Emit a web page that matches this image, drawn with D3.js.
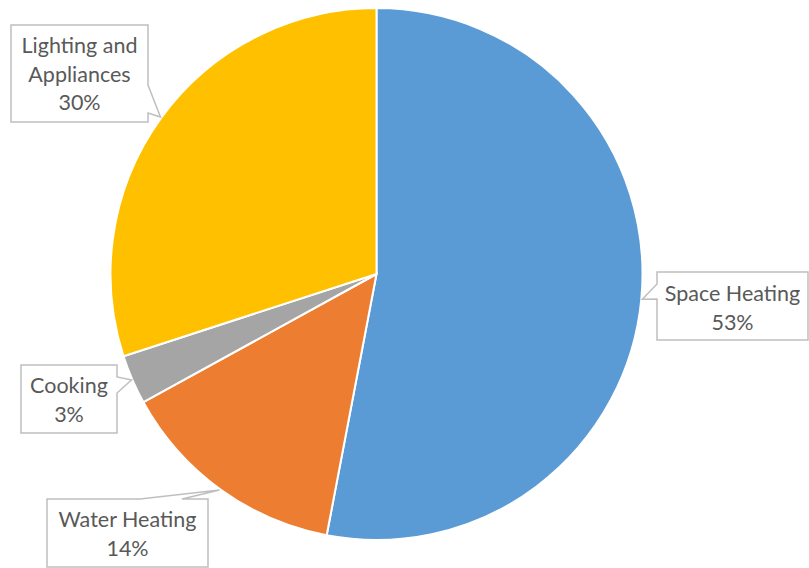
<!DOCTYPE html>
<html>
<head>
<meta charset="utf-8">
<script src="https://cdn.jsdelivr.net/npm/d3@7"></script>
<style>
  body { margin: 0; background: #fff; }
  svg { display: block; }
</style>
</head>
<body>
<svg id="chart"></svg>
<script>
// data
const categories = ['Space Heating', 'Water Heating', 'Cooking', 'Lighting and Appliances']
const values = [53, 14, 3, 30]
const colors = ['#5B9BD5', '#ED7D31', '#A5A5A5', '#FFC000']
// label lines (category name may wrap)
const labelLines = [['Space Heating'], ['Water Heating'], ['Cooking'], ['Lighting and', 'Appliances']]

const width = 809
const height = 568
const cx = 376.5
const cy = 274
const radius = 266

// callout boxes: rect + two base points of the pointer on the box edge
const callouts = [
    { x: 657, y: 272, w: 151, h: 68, base: [[657, 284], [657, 299]], textY: 301 },
    { x: 47, y: 499, w: 161, h: 68, base: [[140, 499], [182, 499]], textY: 527 },
    { x: 21, y: 365, w: 96, h: 68, base: [[117, 377], [117, 393]], textY: 393 },
    { x: 11, y: 25, w: 137, h: 97, base: [[148, 85], [148, 113]], textY: 53 },
]

const svg = d3.select('#chart').attr('width', width).attr('height', height)

const pie = d3.pie().sort(null).value(v => v)
const arcs = pie(values)
const arc = d3.arc().innerRadius(0).outerRadius(radius)

const g = svg.append('g').attr('transform', `translate(${cx}, ${cy})`)

g.selectAll('path').data(arcs).enter()
    .append('path')
    .attr('d', arc)
    .attr('fill', (d, i) => colors[i])
    .attr('stroke', '#fff')
    .attr('stroke-width', 2)

const total = d3.sum(values)

// 标注框
const labels = svg.append('g')
arcs.forEach((d, i) => {
    const c = callouts[i]
    const mid = (d.startAngle + d.endAngle) / 2
    const tip = [cx + Math.sin(mid) * (radius + 1), cy - Math.cos(mid) * (radius + 1)]

    // build outline going clockwise around the rect, inserting the pointer
    const x0 = c.x, y0 = c.y, x1 = c.x + c.w, y1 = c.y + c.h
    const [b1, b2] = c.base
    let pts
    if (b1[1] === y0 && b2[1] === y0) {
        pts = [[x0, y0], b1, tip, b2, [x1, y0], [x1, y1], [x0, y1]]
    } else if (b1[0] === x1) {
        pts = [[x0, y0], [x1, y0], b1, tip, b2, [x1, y1], [x0, y1]]
    } else {
        pts = [[x0, y0], [x1, y0], [x1, y1], [x0, y1], b2, tip, b1]
    }

    labels.append('path')
        .attr('d', d3.line()(pts) + 'Z')
        .attr('fill', '#fff')
        .attr('stroke', '#BFBFBF')
        .attr('stroke-width', 1.5)
        .attr('stroke-linejoin', 'miter')

    const lines = [...labelLines[i], `${Math.round(values[i] / total * 100)}%`]
    const text = labels.append('text')
        .attr('text-anchor', 'middle')
        .attr('font-family', 'Lato, "Open Sans", sans-serif')
        .attr('font-size', 21.5)
        .attr('fill', '#595959')
    lines.forEach((t, j) => {
        text.append('tspan')
            .attr('x', c.x + c.w / 2)
            .attr('y', c.textY + j * 28.5)
            .text(t)
    })
})
</script>
</body>
</html>
